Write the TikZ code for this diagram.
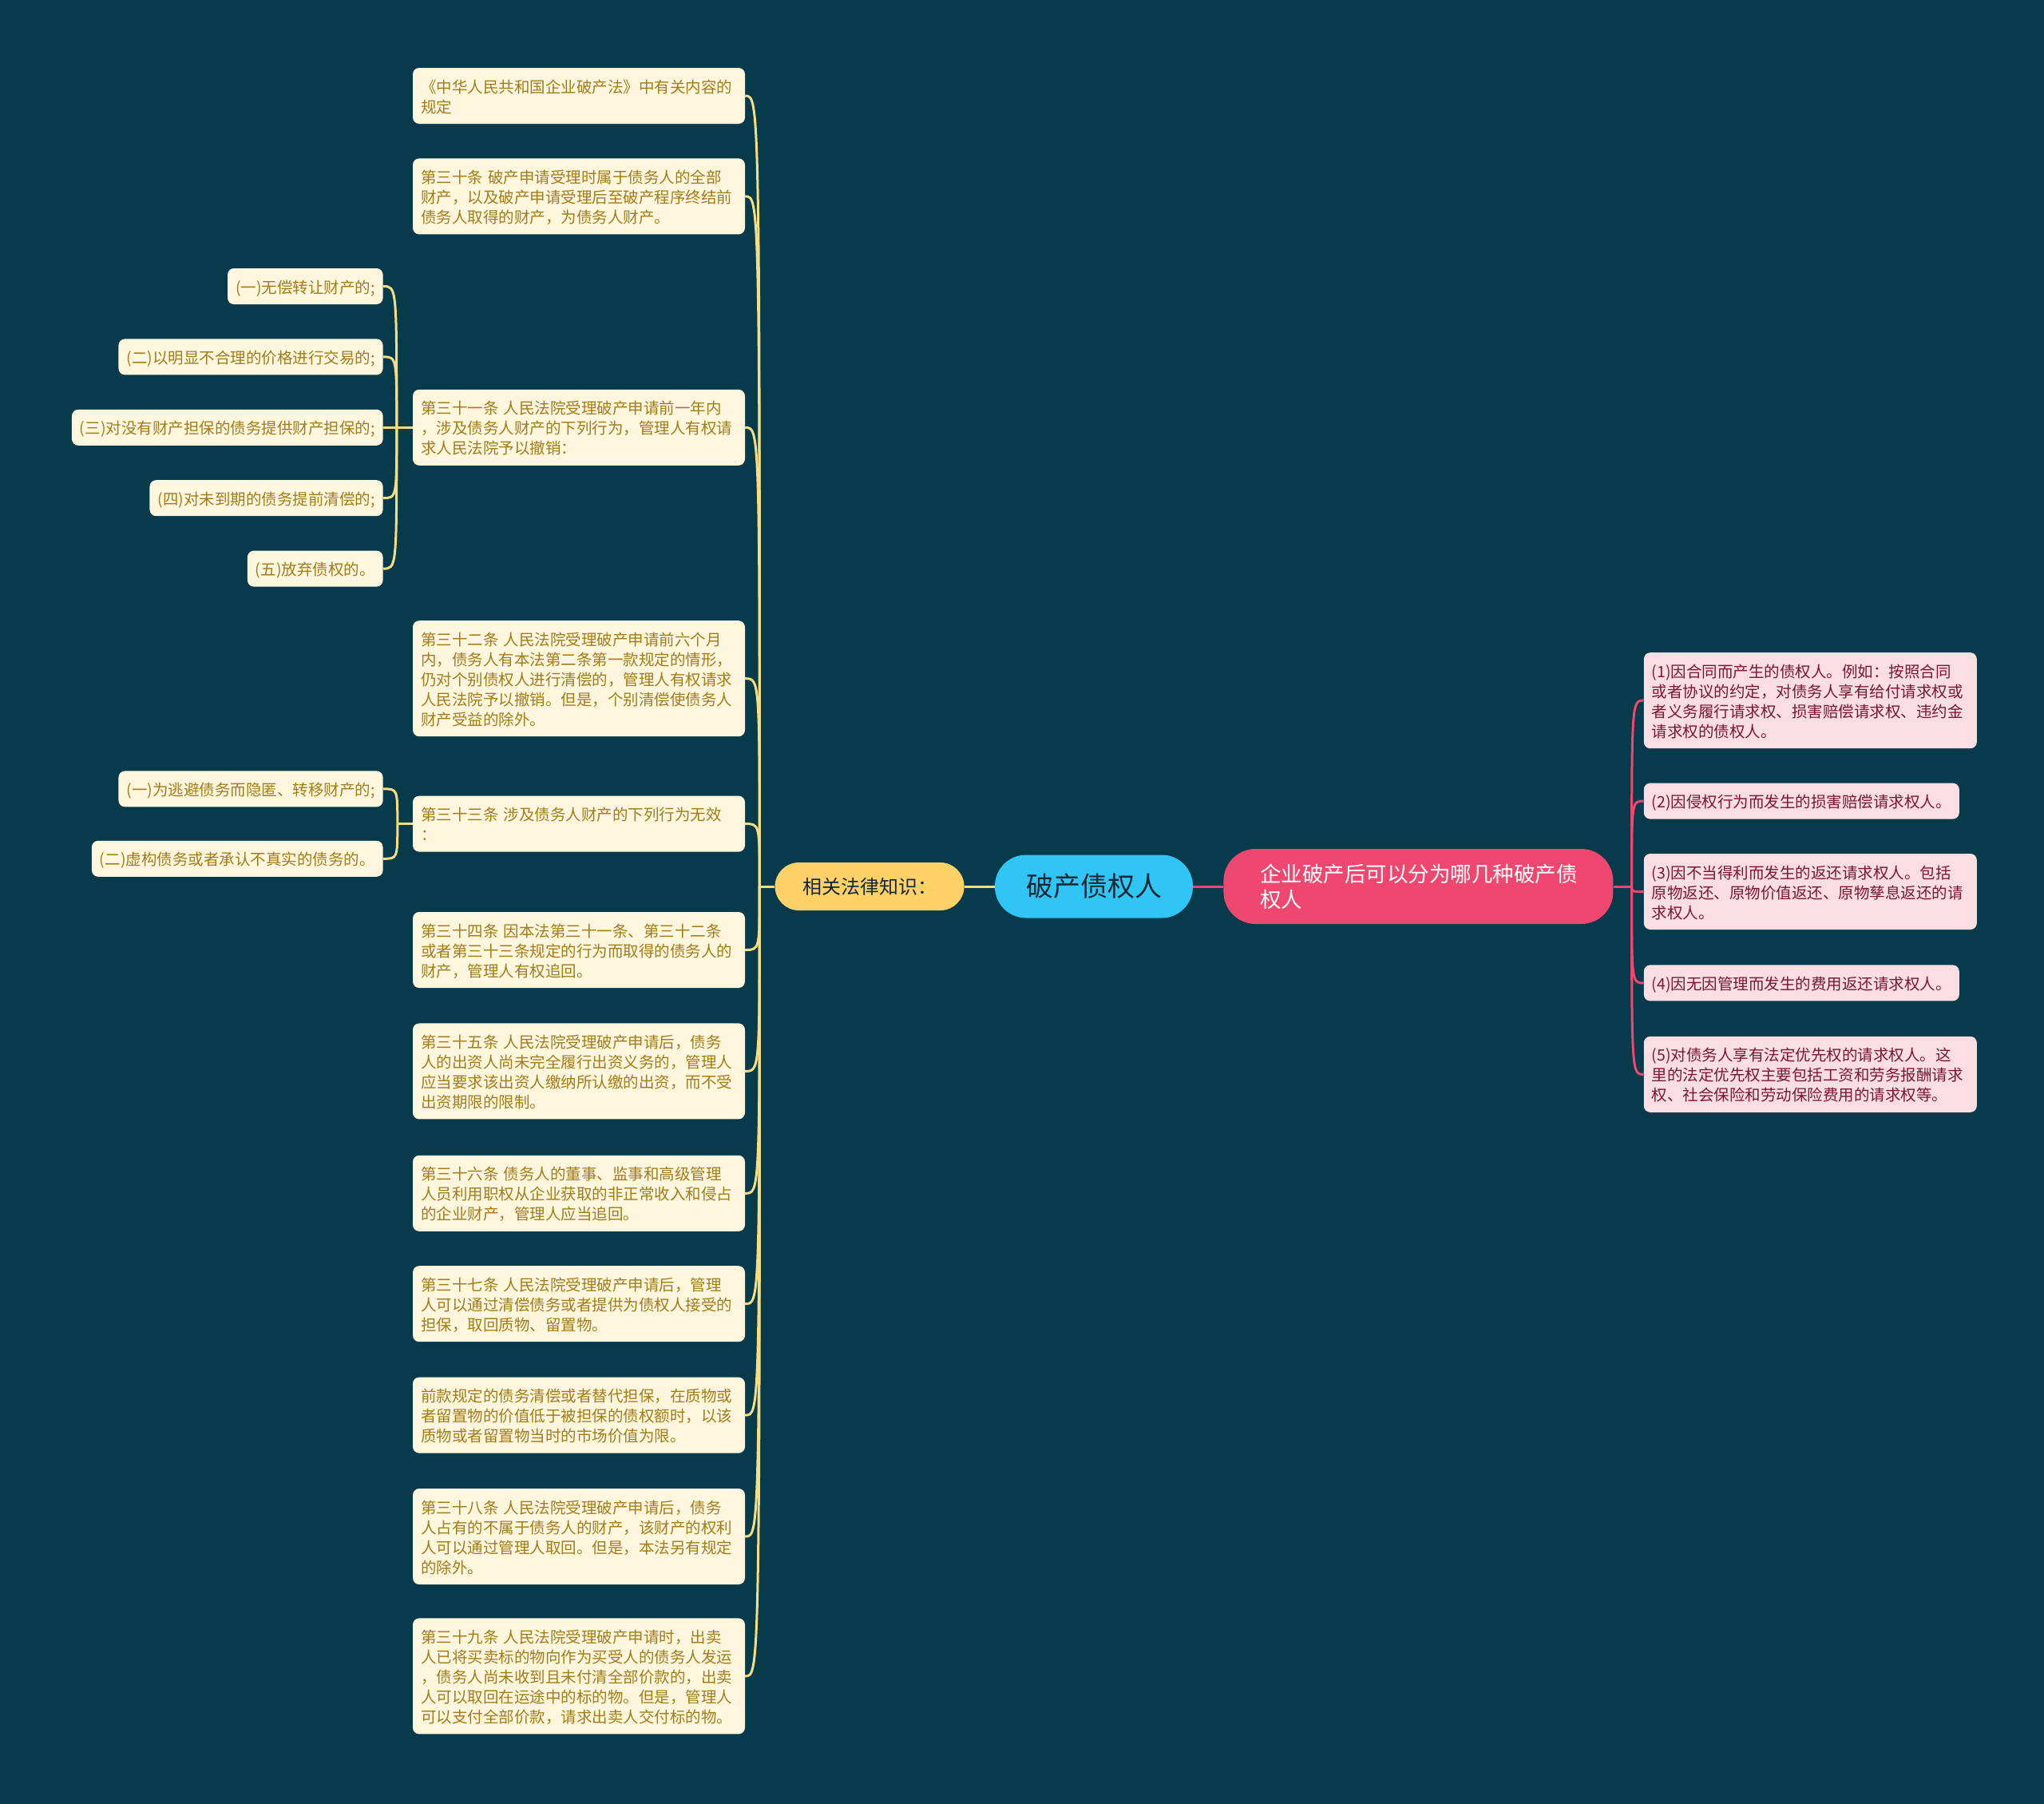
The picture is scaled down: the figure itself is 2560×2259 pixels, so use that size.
\documentclass[tikz,border=0pt]{standalone}
\usepackage{fontspec}
\setmainfont{Noto Sans CJK SC}
\usetikzlibrary{positioning}
\definecolor{mybg}{RGB}{7,59,76}
\definecolor{mycream}{RGB}{254,246,221}
\definecolor{mygold}{RGB}{160,124,27}
\definecolor{myyellow}{RGB}{255,209,102}
\definecolor{mylink}{RGB}{245,221,132}
\definecolor{myblue}{RGB}{48,197,244}
\definecolor{myred}{RGB}{239,71,111}
\definecolor{mypink}{RGB}{251,222,228}
\definecolor{mymaroon}{RGB}{122,22,52}
\definecolor{mydark}{RGB}{20,40,52}
\newcommand{\linestrut}{\rule[-4pt]{0pt}{25pt}}

\begin{document}
\begin{tikzpicture}[
		x=1pt, y=-1pt,
		node distance=43pt and 38pt,
		leaf/.style={rectangle, fill=mycream, text=mygold, rounded corners=8pt, align=left, inner xsep=10pt, inner ysep=10pt, font=\fontsize{19.5}{25}\selectfont, execute at begin node=\linestrut, execute at end node=\linestrut},
		box/.style={leaf, text width=396pt},
		rleaf/.style={leaf, fill=mypink, text=mymaroon},
		rbox/.style={rleaf, text width=397pt},
		hub/.style={rectangle, inner sep=0pt, align=center},
		link/.style={draw=mylink, line width=3pt},
		plink/.style={draw=myred, line width=3pt}
		]
		
		\path[use as bounding box, fill=mybg] (0,0) rectangle (2560,2259);
		
		% Center nodes
		\node[hub, fill=myblue, text=mydark, minimum width=248pt, minimum height=79pt, rounded corners=39pt, font=\fontsize{34}{38}\selectfont] (root) at (1370,1110) {破产债权人};
		\node[hub, left=38pt of root, fill=myyellow, text=mydark, minimum width=237pt, minimum height=60pt, rounded corners=30pt, font=\fontsize{24}{28}\selectfont] (law) {相关法律知识：};
		\node[hub, right=38pt of root, fill=myred, text=white, align=left, text width=396pt, inner xsep=46pt, minimum height=94pt, rounded corners=40pt, font=\fontsize{26.5}{32}\selectfont] (cat) {企业破产后可以分为哪几种破产债\\权人};
		
		% Left column
		\node[box] (a1) at (725,120) {《中华人民共和国企业破产法》中有关内容的\\规定};
		\node[box, below=of a1] (a2) {第三十条 破产申请受理时属于债务人的全部\\财产，以及破产申请受理后至破产程序终结前\\债务人取得的财产，为债务人财产。};
		\node[box, below=194pt of a2] (a3) {第三十一条 人民法院受理破产申请前一年内\\，涉及债务人财产的下列行为，管理人有权请\\求人民法院予以撤销：};
		\node[box, below=194pt of a3] (a4) {第三十二条 人民法院受理破产申请前六个月\\内，债务人有本法第二条第一款规定的情形，\\仍对个别债权人进行清偿的，管理人有权请求\\人民法院予以撤销。但是，个别清偿使债务人\\财产受益的除外。};
		\node[box, below=74pt of a4] (a5) {第三十三条 涉及债务人财产的下列行为无效\\：};
		\node[box, below=75pt of a5] (a6) {第三十四条 因本法第三十一条、第三十二条\\或者第三十三条规定的行为而取得的债务人的\\财产，管理人有权追回。};
		\node[box, below=44pt of a6] (a7) {第三十五条 人民法院受理破产申请后，债务\\人的出资人尚未完全履行出资义务的，管理人\\应当要求该出资人缴纳所认缴的出资，而不受\\出资期限的限制。};
		\node[box, below=45pt of a7] (a8) {第三十六条 债务人的董事、监事和高级管理\\人员利用职权从企业获取的非正常收入和侵占\\的企业财产，管理人应当追回。};
		\node[box, below=of a8] (a9) {第三十七条 人民法院受理破产申请后，管理\\人可以通过清偿债务或者提供为债权人接受的\\担保，取回质物、留置物。};
		\node[box, below=44pt of a9] (a10) {前款规定的债务清偿或者替代担保，在质物或\\者留置物的价值低于被担保的债权额时，以该\\质物或者留置物当时的市场价值为限。};
		\node[box, below=44pt of a10] (a11) {第三十八条 人民法院受理破产申请后，债务\\人占有的不属于债务人的财产，该财产的权利\\人可以通过管理人取回。但是，本法另有规定\\的除外。};
		\node[box, below=42pt of a11] (a12) {第三十九条 人民法院受理破产申请时，出卖\\人已将买卖标的物向作为买受人的债务人发运\\，债务人尚未收到且未付清全部价款的，出卖\\人可以取回在运途中的标的物。但是，管理人\\可以支付全部价款，请求出卖人交付标的物。};
		
		% Sub items of a3
		\node[leaf, left=37pt of a3] (b3) {(三)对没有财产担保的债务提供财产担保的;};
		\node[leaf, above left=43pt and 0pt of b3.north east] (b2) {(二)以明显不合理的价格进行交易的;};
		\node[leaf, above left=43pt and 0pt of b2.north east] (b1) {(一)无偿转让财产的;};
		\node[leaf, below left=43pt and 0pt of b3.south east] (b4) {(四)对未到期的债务提前清偿的;};
		\node[leaf, below left=43pt and 0pt of b4.south east] (b5) {(五)放弃债权的。};
		
		% Sub items of a5
		\node[leaf, above left=21pt and 37pt of a5.west] (c1) {(一)为逃避债务而隐匿、转移财产的;};
		\node[leaf, below left=21pt and 37pt of a5.west] (c2) {(二)虚构债务或者承认不真实的债务的。};
		
		% Right column
		\node[rbox, right=38pt of cat, yshift=-6.5pt] (r3) {(3)因不当得利而发生的返还请求权人。包括\\原物返还、原物价值返还、原物孳息返还的请\\求权人。};
		\node[rleaf, above right=43pt and 0pt of r3.north west] (r2) {(2)因侵权行为而发生的损害赔偿请求权人。};
		\node[rbox, above right=43pt and 0pt of r2.north west] (r1) {(1)因合同而产生的债权人。例如：按照合同\\或者协议的约定，对债务人享有给付请求权或\\者义务履行请求权、损害赔偿请求权、违约金\\请求权的债权人。};
		\node[rleaf, below right=44pt and 0pt of r3.south west] (r4) {(4)因无因管理而发生的费用返还请求权人。};
		\node[rbox, below right=44pt and 0pt of r4.south west] (r5) {(5)对债务人享有法定优先权的请求权人。这\\里的法定优先权主要包括工资和劳务报酬请求\\权、社会保险和劳动保险费用的请求权等。};
		
		% Connectors
		\draw[link] (law) -- (root);
		\draw[plink] (root) -- (cat);
		
		\draw[link] (law.west) -- ++(-19,0) coordinate (lj);
		\foreach \n in {1,...,12}
			\draw[link] (lj) .. controls (lj |- a\n.east) .. (a\n.east);
		
		\draw[link] (a3.west) -- ++(-20,0) coordinate (bj);
		\foreach \n in {1,...,5}
			\draw[link] (bj) .. controls (bj |- b\n.east) .. (b\n.east);
		
		\draw[link] (a5.west) -- ++(-19,0) coordinate (cj);
		\foreach \n in {1,2}
			\draw[link] (cj) .. controls (cj |- c\n.east) .. (c\n.east);
		
		\draw[plink] (cat.east) -- ++(23,0) coordinate (rj);
		\foreach \n in {1,...,5}
			\draw[plink] (rj) .. controls (rj |- r\n.west) .. (r\n.west);
		
	\end{tikzpicture}
\end{document}
